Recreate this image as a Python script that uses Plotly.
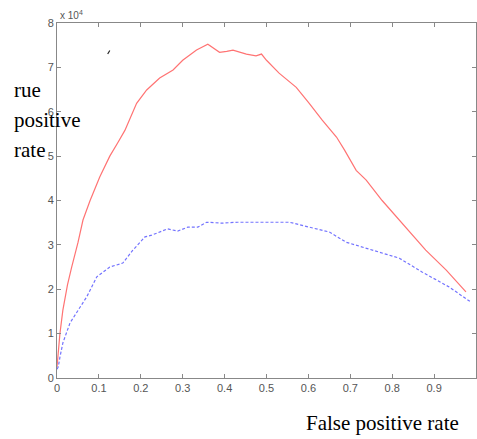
import plotly.graph_objects as go

# Red solid curve (values in units of 1e4)
red_x = [0.0, 0.003, 0.007, 0.014, 0.025, 0.035, 0.05, 0.062, 0.079, 0.102, 0.126, 0.145, 0.162, 0.19, 0.214,
         0.245, 0.277, 0.30, 0.333, 0.36, 0.375, 0.388, 0.405, 0.42, 0.452, 0.475, 0.488, 0.50, 0.53, 0.571, 0.602, 0.633,
         0.667, 0.686, 0.714, 0.738, 0.776, 0.824, 0.88, 0.929, 0.976]
red_y = [0.25, 0.6, 1.0, 1.53, 2.1, 2.5, 3.05, 3.56, 4.0, 4.53, 5.0, 5.3, 5.58, 6.19, 6.49,
         6.76, 6.94, 7.16, 7.39, 7.52, 7.42, 7.34, 7.36, 7.39, 7.30, 7.26, 7.30, 7.16, 6.87, 6.55, 6.19, 5.81,
         5.43, 5.14, 4.68, 4.46, 4.0, 3.49, 2.88, 2.43, 1.94]

# Blue dashed curve
blue_x = [0.0, 0.003, 0.007, 0.014, 0.031, 0.05, 0.071, 0.095, 0.126, 0.157, 0.181, 0.21, 0.226,
          0.264, 0.288, 0.312, 0.336, 0.357, 0.393, 0.431, 0.471, 0.555, 0.602, 0.65, 0.69,
          0.752, 0.817, 0.871, 0.936, 0.988]
blue_y = [0.2, 0.25, 0.47, 0.79, 1.24, 1.53, 1.83, 2.28, 2.5, 2.59, 2.88, 3.18, 3.22,
          3.36, 3.31, 3.40, 3.40, 3.51, 3.49, 3.51, 3.51, 3.51, 3.40, 3.29, 3.06,
          2.88, 2.70, 2.39, 2.05, 1.71]

# small stray mark
stray_x = [0.121, 0.126]
stray_y = [7.30, 7.38]

x_ticks = [0, 0.1, 0.2, 0.3, 0.4, 0.5, 0.6, 0.7, 0.8, 0.9, 1]
x_tick_text = ["0", "0.1", "0.2", "0.3", "0.4", "0.5", "0.6", "0.7", "0.8", "0.9", "1"]
y_ticks = [0, 1, 2, 3, 4, 5, 6, 7, 8]

fig = go.Figure()
fig.add_trace(go.Scatter(x=red_x, y=red_y, mode="lines",
                         line=dict(color="rgb(255,115,115)", width=1.2)))
fig.add_trace(go.Scatter(x=blue_x, y=blue_y, mode="lines",
                         line=dict(color="rgb(115,115,255)", width=1.2, dash="3px,2px")))
fig.add_trace(go.Scatter(x=stray_x, y=stray_y, mode="lines",
                         line=dict(color="#222", width=1.2)))

axis_common = dict(showgrid=False, zeroline=False, showline=True, linecolor="#888", linewidth=1,
                   ticks="inside", ticklen=4, tickcolor="#888", mirror="ticks", automargin=False,
                   tickfont=dict(family="Arial, Liberation Sans", size=11, color="#555"))

fig.update_xaxes(range=[0, 1], tickvals=x_ticks, ticktext=x_tick_text, **axis_common)
fig.update_yaxes(range=[0, 8], tickvals=y_ticks, **axis_common)

serif = dict(family="Liberation Serif, Times New Roman, serif", size=21, color="black")
annotations = [
    dict(text="x 10<sup>4</sup>", x=0.002, y=1.0, xref="paper", yref="paper", xanchor="left",
         yanchor="bottom", showarrow=False,
         font=dict(family="Arial, Liberation Sans", size=10, color="#555")),
    dict(text="False positive rate", x=0.776, y=-0.127, xref="paper", yref="paper",
         xanchor="center", yanchor="middle", showarrow=False, font=serif),
]
for txt, py in [("rue", 90), ("positive", 120), ("rate", 150)]:
    annotations.append(dict(text=txt, x=(12 - 57) / 419, y=(378 - py) / 355, xref="paper",
                            yref="paper", xanchor="left", yanchor="middle", showarrow=False,
                            font=serif))

fig.update_layout(width=477, height=439, margin=dict(l=57, r=1, t=23, b=61),
                  plot_bgcolor="white", paper_bgcolor="white", showlegend=False,
                  annotations=annotations)

fig.write_html("out.html", config={"displayModeBar": False},
               post_script="document.body.style.margin='0';document.body.style.overflow='hidden';")
